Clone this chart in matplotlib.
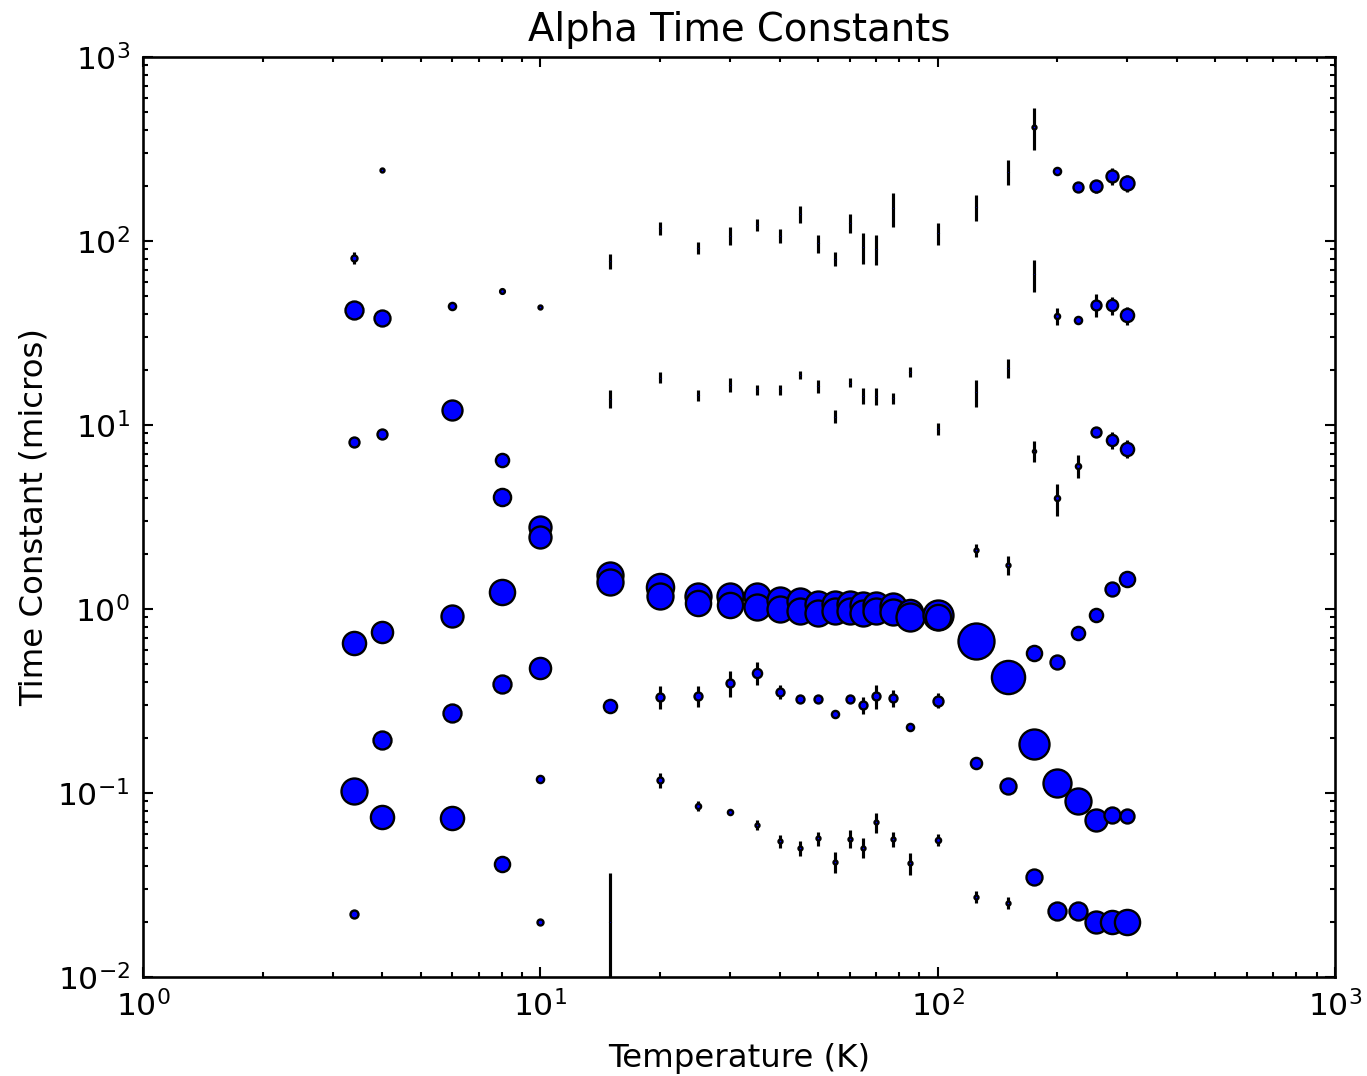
import matplotlib
matplotlib.use("Agg")
import matplotlib.pyplot as plt

# Temperatures (K) and fitted time constants (micros) for each one
temperatures = [3.4, 4, 6, 8, 10, 15, 20, 25, 30, 35, 40, 45, 50, 55, 60, 65,
                70, 77, 85, 100, 125, 150, 175, 200, 225, 250, 275, 300]

tau = [
    [80.9, 42.2, 8.12, 0.651, 0.103, 0.0219],
    [243, 38.2, 8.94, 0.747, 0.194, 0.0743],
    [44.3, 12.07, 0.916, 0.271, 0.0734],
    [53.7, 6.45, 4.05, 1.24, 0.390, 0.0410],
    [44.0, 2.80, 2.47, 0.480, 0.119, 0.0198],
    [77.8, 13.9, 1.53, 1.41, 0.297, 0.020],
    [117.5, 18.1, 1.31, 1.17, 0.334, 0.117],
    [91.5, 14.5, 1.18, 1.08, 0.338, 0.085],
    [107, 16.6, 1.17, 1.05, 0.397, 0.0785],
    [122, 15.6, 1.17, 1.02, 0.45, 0.067],
    [107, 15.6, 1.12, 0.995, 0.355, 0.0546],
    [140, 18.7, 1.10, 0.98, 0.324, 0.050],
    [97, 16.3, 1.07, 0.955, 0.324, 0.0567],
    [80, 11.1, 1.07, 0.975, 0.269, 0.0424],
    [125.6, 17.0, 1.06, 0.97, 0.326, 0.0565],
    [93, 14.4, 1.05, 0.955, 0.30, 0.0505],
    [91, 14.3, 1.05, 0.97, 0.336, 0.0692],
    [151, 14.0, 1.04, 0.967, 0.33, 0.056],
    [19.4, 0.967, 0.908, 0.228, 0.0414],
    [110, 9.5, 0.927, 0.908, 0.318, 0.0556],
    [153, 15.1, 2.08, 0.670, 0.145, 0.0273],
    [238, 20.3, 1.73, 0.429, 0.1096, 0.0253],
    [419, 66, 7.2, 0.574, 0.1846, 0.0348],
    [240, 39, 4.0, 0.517, 0.113, 0.0229],
    [196, 37.2, 6.0, 0.738, 0.0908, 0.0229],
    [198, 45, 9.2, 0.927, 0.0713, 0.0198],
    [225, 44.7, 8.29, 1.28, 0.0759, 0.0198],
    [207, 39.5, 7.44, 1.46, 0.075, 0.020],
]

tau_err = [
    [6, 1, 0.3, 0.02, 0.003, 0.001],
    [5, 1, 0.3, 0.02, 0.006, 0.002],
    [1, 0.3, 0.02, 0.01, 0.002],
    [1, 0.2, 0.15, 0.04, 0.02, 0.001],
    [1, 0.08, 0.08, 0.015, 0.003, 0.0005],
    [7.3, 1.6, 0.04, 0.03, 0.008, 0.0166],
    [9.8, 1.2, 0.04, 0.03, 0.049, 0.011],
    [6.9, 1.0, 0.03, 0.03, 0.044, 0.005],
    [12, 1.4, 0.03, 0.03, 0.066, 0.002],
    [9, 1.0, 0.03, 0.03, 0.065, 0.004],
    [9, 1.0, 0.03, 0.03, 0.032, 0.0046],
    [15, 1.0, 0.03, 0.03, 0.013, 0.0046],
    [10.5, 1.3, 0.03, 0.03, 0.015, 0.005],
    [6.7, 0.9, 0.03, 0.03, 0.012, 0.0056],
    [14.6, 0.9, 0.03, 0.03, 0.012, 0.0065],
    [17.7, 1.4, 0.03, 0.03, 0.031, 0.0063],
    [17, 1.5, 0.03, 0.03, 0.05, 0.0084],
    [32, 1.0, 0.03, 0.03, 0.035, 0.005],
    [1.2, 0.03, 0.03, 0.01, 0.0056],
    [14.5, 0.7, 0.03, 0.03, 0.03, 0.004],
    [25, 2.5, 0.17, 0.02, 0.004, 0.002],
    [37, 2.4, 0.2, 0.01, 0.004, 0.002],
    [107, 13, 0.94, 0.02, 0.005, 0.001],
    [8, 4.2, 0.8, 0.015, 0.003, 0.0006],
    [6, 1.5, 0.87, 0.02, 0.002, 0.0006],
    [16.5, 6.4, 0.5, 0.02, 0.002, 0.0005],
    [23, 5.1, 0.9, 0.03, 0.002, 0.0005],
    [21.5, 4.5, 0.85, 0.04, 0.002, 0.0005],
]

# relative amplitude of each component, shown as marker size
amp = [
    [0.15, 0.45, 0.25, 0.58, 0.65, 0.20],
    [0.10, 0.40, 0.25, 0.53, 0.45, 0.58],
    [0.18, 0.50, 0.55, 0.45, 0.58],
    [0.12, 0.33, 0.43, 0.63, 0.45, 0.38],
    [0.10, 0.55, 0.55, 0.53, 0.18, 0.15],
    [0.02, 0.02, 0.65, 0.65, 0.33, 0.02],
    [0.02, 0.02, 0.68, 0.65, 0.20, 0.15],
    [0.02, 0.02, 0.65, 0.63, 0.20, 0.13],
    [0.02, 0.02, 0.65, 0.63, 0.20, 0.13],
    [0.02, 0.02, 0.65, 0.65, 0.23, 0.10],
    [0.02, 0.02, 0.65, 0.65, 0.20, 0.10],
    [0.02, 0.02, 0.65, 0.65, 0.20, 0.10],
    [0.02, 0.02, 0.65, 0.65, 0.20, 0.10],
    [0.02, 0.02, 0.65, 0.65, 0.18, 0.10],
    [0.02, 0.02, 0.65, 0.65, 0.20, 0.10],
    [0.02, 0.02, 0.65, 0.65, 0.20, 0.10],
    [0.02, 0.02, 0.65, 0.65, 0.20, 0.10],
    [0.02, 0.02, 0.65, 0.65, 0.20, 0.10],
    [0.02, 0.63, 0.70, 0.18, 0.10],
    [0.02, 0.02, 0.75, 0.63, 0.25, 0.13],
    [0.02, 0.02, 0.10, 0.90, 0.28, 0.10],
    [0.02, 0.02, 0.10, 0.83, 0.40, 0.10],
    [0.10, 0.02, 0.08, 0.38, 0.75, 0.40],
    [0.18, 0.13, 0.13, 0.35, 0.70, 0.45],
    [0.25, 0.18, 0.13, 0.33, 0.65, 0.45],
    [0.30, 0.25, 0.25, 0.33, 0.55, 0.55],
    [0.30, 0.28, 0.28, 0.35, 0.40, 0.58],
    [0.35, 0.33, 0.33, 0.38, 0.35, 0.63],
]

DPI = 188
plt.rcParams['font.family'] = ['DejaVu Sans']
plt.rcParams['font.size'] = 12
plt.rcParams['axes.unicode_minus'] = False

fig = plt.figure(figsize=(1367 / DPI, 1076 / DPI), dpi=DPI)
ax = fig.add_axes([143 / 1367, 1 - 977 / 1076, (1335 - 143) / 1367, (977 - 57) / 1076])

# marker diameter in points for amplitude 1
ms_scale = 40 * 72 / DPI

z = 2.0
for t, taus, errs, amps in zip(temperatures, tau, tau_err, amp):
    for v, e, a in zip(taus, errs, amps):
        line, caps, bars = ax.errorbar(t, v, yerr=e, fmt='o', ms=a * ms_scale,
                                       mfc='b', mec='k', mew=0.9, ecolor='k',
                                       elinewidth=1.2, capsize=0, zorder=z)
        for b in bars:
            b.set_zorder(z + 0.0005)
        z += 0.001

ax.set_xscale('log')
ax.set_yscale('log')
ax.set_xlim(1, 1000)
ax.set_ylim(0.01, 1000)
ax.tick_params(which='both', direction='in', top=True, right=True, width=0.8)
ax.tick_params(which='major', length=4, pad=5)
ax.tick_params(which='minor', length=2)
for s in ax.spines.values():
    s.set_linewidth(1.0)

ax.set_title('Alpha Time Constants', fontsize=14.8, pad=6)
ax.set_xlabel('Temperature (K)', fontsize=12.4, labelpad=8)
ax.set_ylabel('Time Constant (micros)', fontsize=12.4, labelpad=3)

fig.savefig('out.png', dpi=DPI)
